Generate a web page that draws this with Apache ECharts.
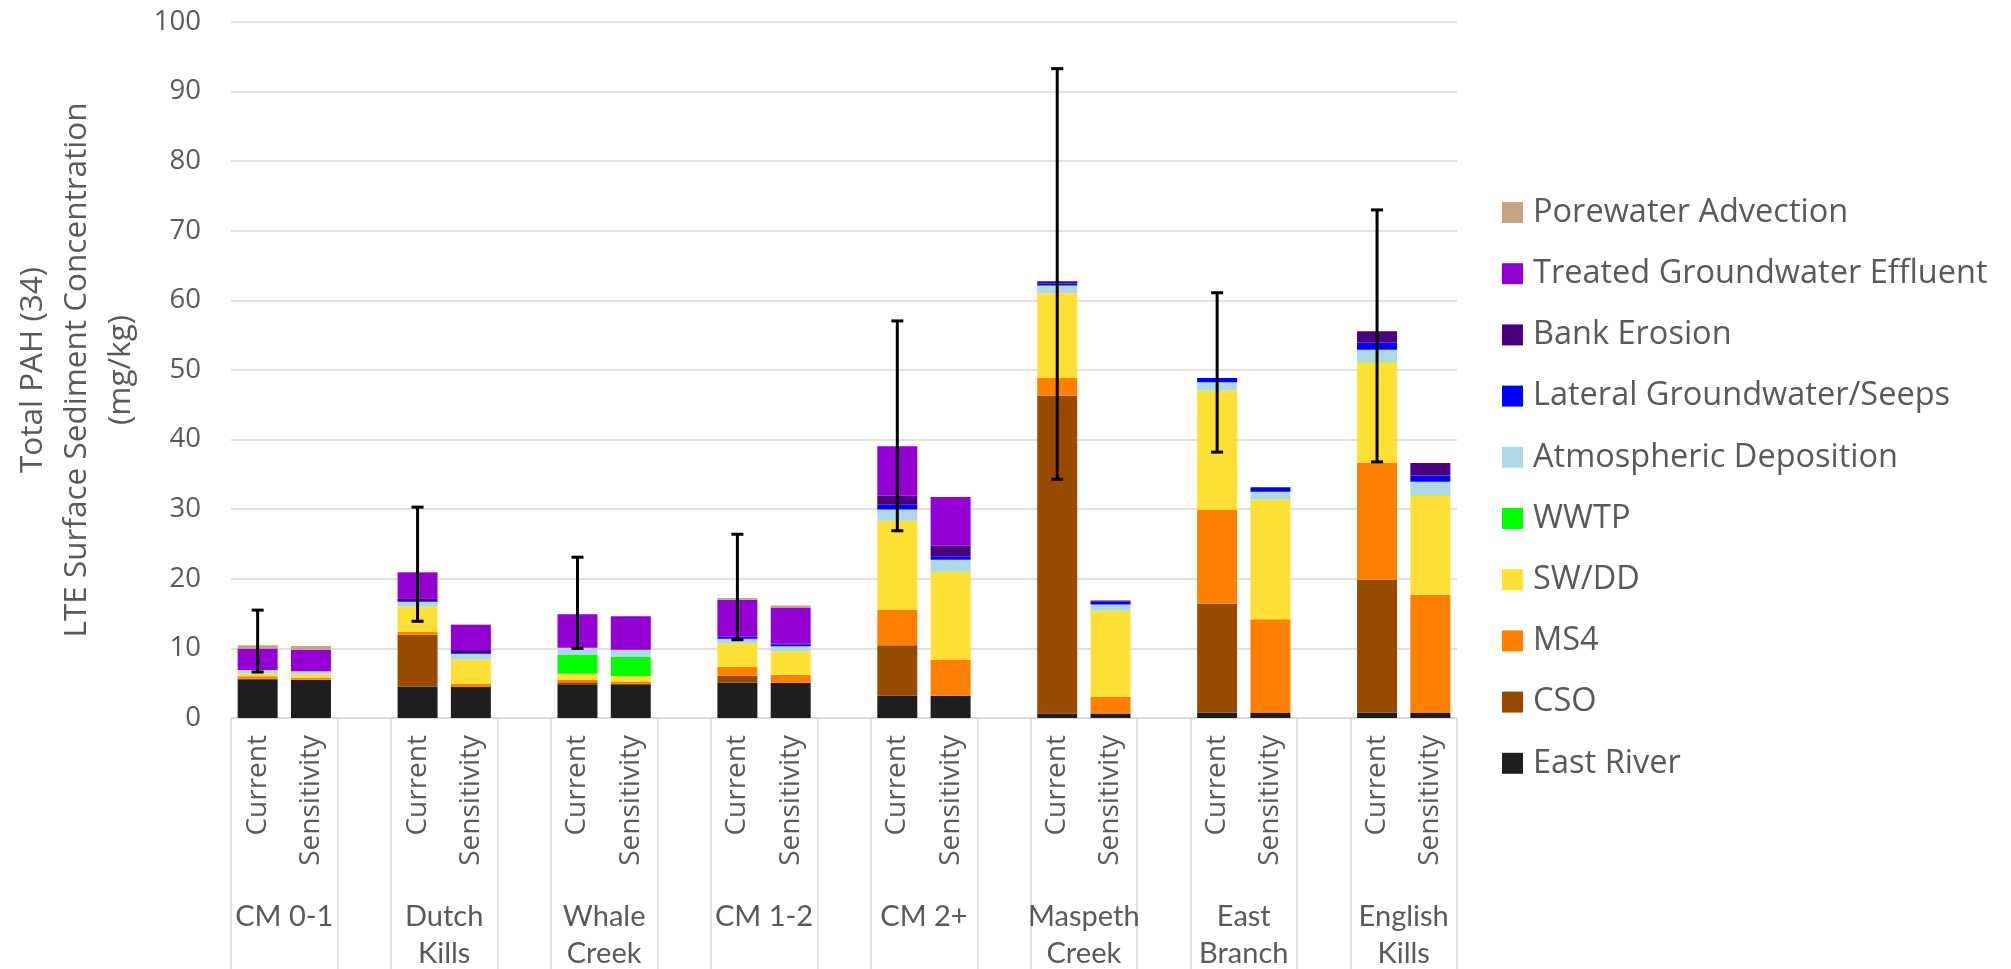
<!DOCTYPE html>
<html>
<head>
<meta charset="utf-8">
<script src="https://cdn.jsdelivr.net/npm/echarts@6/dist/echarts.min.js"></script>
<style>
  html, body { margin: 0; padding: 0; background: #fff; }
  #chart { width: 2011px; height: 969px; }
</style>
</head>
<body>
<div id="chart"></div>
<script>
// groups along the x axis, each has a Current and a Sensitivity bar
const groups = ['CM 0-1', 'Dutch\nKills', 'Whale\nCreek', 'CM 1-2', 'CM 2+', 'Maspeth\nCreek', 'East\nBranch', 'English\nKills']
const scenarios = ['Current', 'Sensitivity']

// values per bar, order: CM 0-1 Cur, CM 0-1 Sens, Dutch Cur, Dutch Sens, ...
const eastRiver = [5.55, 5.45, 4.5, 4.45, 4.84, 4.84, 5.08, 5.05, 3.2, 3.2, 0.64, 0.64, 0.8, 0.8, 0.8, 0.8]
const cso = [0.1, 0.05, 7.47, 0, 0.29, 0.1, 1.0, 0, 7.25, 0, 45.7, 0, 15.65, 0, 19.05, 0]
const ms4 = [0.35, 0.3, 0.43, 0.43, 0.38, 0.29, 1.25, 1.15, 5.05, 5.13, 2.5, 2.36, 13.45, 13.4, 16.85, 16.9]
const swdd = [0.4, 0.5, 3.6, 3.54, 0.86, 0.81, 3.4, 3.4, 12.8, 12.67, 12.2, 12.4, 17.15, 17.2, 14.4, 14.3]
const wwtp = [0, 0, 0, 0, 2.68, 2.73, 0, 0, 0.05, 0.05, 0, 0, 0, 0, 0.05, 0.05]
const atmDeposition = [0.5, 0.4, 0.7, 0.77, 1.05, 1.05, 0.67, 0.72, 1.6, 1.7, 1.1, 0.9, 1.2, 1.1, 1.75, 1.9]
const lateralGw = [0, 0, 0.1, 0.1, 0, 0, 0.24, 0.29, 0.7, 0.5, 0.3, 0.4, 0.6, 0.65, 1.05, 0.9]
const bankErosion = [0, 0, 0.4, 0.48, 0, 0, 0.05, 0.05, 1.3, 1.5, 0.3, 0.2, 0, 0, 1.6, 1.8]
const treatedGw = [3.1, 3.1, 3.74, 3.64, 4.79, 4.79, 5.3, 5.2, 7.1, 7.0, 0, 0, 0, 0, 0, 0]
const porewater = [0.45, 0.55, 0.05, 0.05, 0, 0, 0.24, 0.29, 0, 0, 0, 0, 0, 0, 0, 0]

// error bars on the Current bars only
const errLow = [6.6, 13.9, 10.0, 11.25, 26.9, 34.3, 38.2, 36.8]
const errHigh = [15.5, 30.3, 23.1, 26.4, 57.05, 93.3, 61.1, 73.0]

const yTicks = { min: 0, max: 100, interval: 10 }

const sources = [
  { name: 'East River', data: eastRiver, color: '#1e1e1e' },
  { name: 'CSO', data: cso, color: '#974a00' },
  { name: 'MS4', data: ms4, color: '#ff8000' },
  { name: 'SW/DD', data: swdd, color: '#ffe035' },
  { name: 'WWTP', data: wwtp, color: '#00ff00' },
  { name: 'Atmospheric Deposition', data: atmDeposition, color: '#add8e6' },
  { name: 'Lateral Groundwater/Seeps', data: lateralGw, color: '#0000ff' },
  { name: 'Bank Erosion', data: bankErosion, color: '#4b0082' },
  { name: 'Treated Groundwater Effluent', data: treatedGw, color: '#9400d3' },
  { name: 'Porewater Advection', data: porewater, color: '#c6a383' },
]

// 3 slots per group (Current, Sensitivity, gap), last gap dropped
const categories = []
groups.forEach((g, i) => {
  categories.push(...scenarios)
  if (i < groups.length - 1) categories.push('')
})
const toSlots = (arr) => {
  const out = []
  groups.forEach((g, i) => {
    out.push(arr[2 * i], arr[2 * i + 1])
    if (i < groups.length - 1) out.push(null)
  })
  return out
}
const groupCenters = groups.map((g, i) => 3 * i + 0.5)
const separators = []
groups.forEach((g, i) => separators.push(3 * i - 0.5, 3 * i + 1.5))
separators.push(categories.length - 0.5)

const textColor = '#595959'
const gridColor = '#d9d9d9'
const uiFont = '"Open Sans", "DejaVu Sans", sans-serif'

const chart = echarts.init(document.getElementById('chart'))

const option = {
  animation: false,
  grid: { left: 231, right: 554, top: 22, bottom: 251, containLabel: false, outerBoundsMode: 'none' },
  legend: {
    orient: 'vertical',
    left: 1502,
    top: 196,
    padding: 0,
    itemWidth: 21,
    itemHeight: 21,
    itemGap: 28.2,
    icon: 'rect',
    data: sources.map((s) => s.name).reverse(),
    textStyle: {
      fontFamily: uiFont,
      fontSize: 32.5,
      lineHeight: 33,
      color: textColor,
      padding: [0, 0, 0, 5],
    },
  },
  xAxis: [
    {
      type: 'category',
      data: categories,
      axisLine: { lineStyle: { color: gridColor, width: 1.5 } },
      axisTick: { show: false },
      axisLabel: {
        interval: 0,
        rotate: 90,
        margin: 17,
        fontFamily: uiFont,
        fontSize: 28,
        color: textColor,
      },
    },
    {
      type: 'value',
      position: 'bottom',
      min: -0.5,
      max: categories.length - 0.5,
      axisLine: { show: false },
      splitLine: { show: false },
      axisTick: {
        show: true,
        customValues: separators,
        length: 251,
        lineStyle: { color: gridColor, width: 1.5 },
      },
      axisLabel: {
        customValues: groupCenters,
        formatter: (v) => groups[Math.round((v - 0.5) / 3)],
        margin: 180,
        fontFamily: 'Lato',
        fontSize: 29,
        lineHeight: 37,
        color: textColor,
      },
    },
  ],
  yAxis: {
    type: 'value',
    min: yTicks.min,
    max: yTicks.max,
    interval: yTicks.interval,
    name: 'Total PAH (34)\nLTE Surface Sediment Concentration\n(mg/kg)',
    nameLocation: 'middle',
    nameGap: 78,
    nameTextStyle: { fontFamily: uiFont, fontSize: 31.5, lineHeight: 44, color: textColor },
    axisLine: { show: false },
    axisTick: { show: false },
    axisLabel: { margin: 30, fontFamily: uiFont, fontSize: 27.5, color: textColor },
    splitLine: { lineStyle: { color: gridColor, width: 1.5 } },
  },
  series: [
    ...sources.map((s) => ({
      name: s.name,
      type: 'bar',
      stack: 'total',
      barWidth: '75%',
      data: toSlots(s.data),
      itemStyle: { color: s.color },
    })),
    {
      name: 'error',
      type: 'custom',
      z: 10,
      data: errLow.map((lo, i) => [3 * i, lo, errHigh[i]]),
      encode: { x: 0, y: [1, 2] },
      renderItem: (params, api) => {
        const x = api.value(0)
        const lo = api.coord([x, api.value(1)])
        const hi = api.coord([x, api.value(2)])
        const cap = 6
        const style = { stroke: '#000', lineWidth: 3 }
        return {
          type: 'group',
          children: [
            { type: 'line', shape: { x1: lo[0], y1: lo[1], x2: hi[0], y2: hi[1] }, style },
            { type: 'line', shape: { x1: hi[0] - cap, y1: hi[1], x2: hi[0] + cap, y2: hi[1] }, style },
            { type: 'line', shape: { x1: lo[0] - cap, y1: lo[1], x2: lo[0] + cap, y2: lo[1] }, style },
          ],
        }
      },
    },
  ],
}

chart.setOption(option)
</script>
</body>
</html>
